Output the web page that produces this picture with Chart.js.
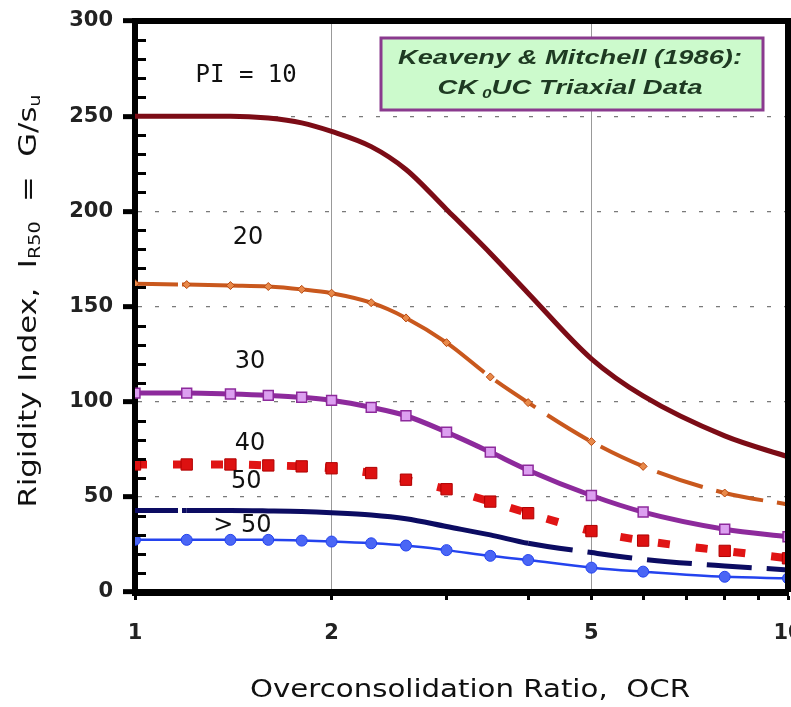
<!DOCTYPE html>
<html>
<head>
<meta charset="utf-8">
<script src="https://cdn.jsdelivr.net/npm/chart.js@4.4.1/dist/chart.umd.min.js"></script>
<style>
  html, body { margin: 0; padding: 0; background: #fff; }
  #c { display: block; }
</style>
</head>
<body>
<canvas id="c" width="791" height="707"></canvas>
<script>
// OCR values where every curve was read
const ocr = [1, 1.2, 1.4, 1.6, 1.8, 2, 2.3, 2.6, 3, 3.5, 4, 5, 6, 8, 10];

// Rigidity index G/su for each plasticity index curve
const pi10 = [250, 250, 250, 249, 246.5, 242, 234, 222, 201, 178, 157, 122.5, 103, 82, 71];
const pi20 = [162, 161.5, 161, 160.5, 159, 157, 152, 144, 131, 113, 99.5, 79, 66, 52, 46];
const pi30 = [104.5, 104.5, 104, 103.3, 102.3, 100.7, 97, 92.6, 84, 73.5, 64, 50.7, 42, 33, 29];
const pi40 = [67, 67, 67, 66.5, 66, 65, 62.5, 59, 54, 47.5, 41.4, 32, 27, 21.6, 17.7];
const pi50 = [42.8, 42.8, 42.8, 42.6, 42.3, 41.7, 40.5, 38.5, 34.4, 30, 25.6, 20.7, 17.2, 13.7, 11.6];
const piOver50 = [27.4, 27.4, 27.4, 27.4, 27, 26.5, 25.6, 24.4, 22, 19, 16.8, 12.8, 10.7, 8, 7.2];

// Axis ticks
const xTicks = [1, 2, 3, 4, 5, 6, 7, 8, 9, 10];
const xLabels = [1, 2, 5, 10];
const xGridAt = [2, 5];

// Curve labels: text and where it sits (OCR, G/su)
const curveLabelText = ['PI = 10', '20', '30', '40', '50', '> 50'];
const curveLabelOcr = [1.48, 1.49, 1.5, 1.5, 1.48, 1.46];
const curveLabelVal = [271, 186, 121, 78, 58, 35];

const toPts = arr => ocr.map((x, i) => ({ x: x, y: arr[i] }));

// dashes that start part way along a curve (first short break, then dashes from `from` on)
const dashAfter = (from, pattern) => c => {
  if (c.p0.parsed.x === 1) return [43, 4];
  return c.p0.parsed.x >= from ? pattern : undefined;
};

// draw runs of [text, font, dy] centred on (cx, cy), stretched to width w
function drawRuns(ctx, runs, cx, cy, w) {
  let nat = 0;
  runs.forEach(r => { ctx.font = r[1]; nat += ctx.measureText(r[0]).width; });
  ctx.save();
  ctx.translate(cx, cy);
  ctx.scale(w / nat, 1);
  ctx.textAlign = 'left';
  ctx.textBaseline = 'middle';
  let x = -nat / 2;
  runs.forEach(r => {
    ctx.font = r[1];
    ctx.fillText(r[0], x, r[2]);
    x += ctx.measureText(r[0]).width;
  });
  ctx.restore();
}

// Draws frame, inner minor ticks, titles, labels and the source box
const decorations = {
  id: 'decorations',
  afterDraw(chart) {
    const ctx = chart.ctx;
    const a = chart.chartArea;
    const xs = chart.scales.x, ys = chart.scales.y;
    ctx.save();

    // top + right frame
    ctx.strokeStyle = '#000';
    ctx.lineWidth = 6;
    ctx.beginPath();
    ctx.moveTo(a.left, a.top);
    ctx.lineTo(a.right, a.top);
    ctx.lineTo(a.right, a.bottom);
    ctx.stroke();

    // minor ticks on the inside of the y axis
    ctx.lineWidth = 3;
    for (let v = 10; v < 300; v += 10) {
      if (v % 50 === 0) continue;
      const py = Math.round(ys.getPixelForValue(v)) + 0.5;
      ctx.beginPath();
      ctx.moveTo(a.left, py);
      ctx.lineTo(a.left + 11, py);
      ctx.stroke();
    }

    // curve labels
    ctx.fillStyle = '#111';
    ctx.textAlign = 'center';
    ctx.textBaseline = 'middle';
    curveLabelText.forEach((t, i) => {
      ctx.font = i === 0 ? '24px "DejaVu Sans Mono"' : '500 24px "DejaVu Sans", sans-serif';
      ctx.fillText(t, xs.getPixelForValue(curveLabelOcr[i]), ys.getPixelForValue(curveLabelVal[i]));
    });

    // source box
    const bx = 381, by = 38, bw = 382, bh = 72;
    ctx.fillStyle = '#ccfacc';
    ctx.fillRect(bx, by, bw, bh);
    ctx.strokeStyle = '#8a3a8e';
    ctx.lineWidth = 3;
    ctx.strokeRect(bx, by, bw, bh);
    ctx.fillStyle = '#1e3a22';
    const big = 'italic bold 21px "Liberation Sans", Arial';
    const small = 'italic bold 13px "Liberation Sans", Arial';
    drawRuns(ctx, [['Keaveny & Mitchell (1986):', big, 0]], 570, 58, 344);
    drawRuns(ctx, [['CK', big, 0], [' 0', small, 6], ['UC Triaxial Data', big, 0]], 570, 88, 265);

    // axis titles
    ctx.fillStyle = '#111';
    drawRuns(ctx, [['Overconsolidation Ratio,  OCR', '25px "DejaVu Sans", sans-serif', 0]], 470, 690, 440);

    ctx.translate(30, 301);
    ctx.rotate(-Math.PI / 2);
    const tf = '24px "DejaVu Sans", sans-serif', sf = '15px "DejaVu Sans", sans-serif';
    drawRuns(ctx, [
      ['Rigidity Index,  I', tf, 0], ['R50', sf, 6], ['  =  G/s', tf, 0], ['u', sf, 6]
    ], 0, 0, 413);

    ctx.restore();
  }
};

const chart = new Chart(document.getElementById('c'), {
  type: 'line',
  data: {
    datasets: [
      {
        label: 'PI = 10', data: toPts(pi10),
        borderColor: '#7c0c16', borderWidth: 5, pointRadius: 0
      },
      {
        label: 'PI = 20', data: toPts(pi20),
        borderColor: '#c9581d', borderWidth: 4,
        segment: { borderDash: dashAfter(3, [48, 14]) },
        pointStyle: 'rectRot', pointRadius: 4,
        pointBackgroundColor: '#e8894a', pointBorderColor: '#b8480f', pointBorderWidth: 1
      },
      {
        label: 'PI = 30', data: toPts(pi30),
        borderColor: '#8d2a9c', borderWidth: 5,
        pointStyle: 'rect', pointRadius: 7,
        pointBackgroundColor: '#dc9ff0', pointBorderColor: '#8d2a9c', pointBorderWidth: 1.5
      },
      {
        label: 'PI = 40', data: toPts(pi40),
        borderColor: '#e01414', borderWidth: 8, borderDash: [12, 26],
        pointStyle: 'rect', pointRadius: 8,
        pointBackgroundColor: '#dd1111', pointBorderColor: '#b00000', pointBorderWidth: 1
      },
      {
        label: 'PI = 50', data: toPts(pi50),
        borderColor: '#0c0c62', borderWidth: 5, pointRadius: 0,
        segment: { borderDash: dashAfter(4, [45, 15]) }
      },
      {
        label: 'PI > 50', data: toPts(piOver50),
        borderColor: '#2443ee', borderWidth: 2.5,
        pointStyle: 'circle', pointRadius: 5.5,
        pointBackgroundColor: '#4a66f5', pointBorderColor: '#2443ee', pointBorderWidth: 1
      }
    ]
  },
  options: {
    responsive: false,
    devicePixelRatio: 1,
    animation: false,
    layout: { autoPadding: false, padding: { left: 0, right: 3, top: 21, bottom: 0 } },
    elements: { line: { cubicInterpolationMode: 'monotone', fill: false } },
    plugins: { legend: { display: false }, tooltip: { enabled: false } },
    scales: {
      x: {
        type: 'logarithmic', min: 1, max: 10,
        afterBuildTicks: scale => { scale.ticks = xTicks.map(v => ({ value: v })); },
        afterFit: scale => {
          scale.height = 115;
          scale.paddingLeft = 0; scale.paddingRight = 0;
        },
        border: { color: '#000', width: 7 },
        grid: {
          color: c => (c.tick && xGridAt.includes(c.tick.value)) ? '#999' : 'rgba(0,0,0,0)',
          lineWidth: 1,
          tickColor: '#000', tickLength: 8, tickWidth: 3
        },
        ticks: {
          autoSkip: false, maxRotation: 0, padding: 21,
          color: '#222', font: { family: '"DejaVu Sans", sans-serif', size: 21, weight: 'bold' },
          callback: v => xLabels.includes(v) ? String(v) : ''
        }
      },
      y: {
        min: 0, max: 300,
        afterFit: scale => {
          scale.width = 135;
          scale.paddingTop = 0; scale.paddingBottom = 0;
        },
        // in v4 border.dash styles the grid lines
        border: { color: '#000', width: 6, dash: [4, 13] },
        grid: {
          color: c => (c.tick && c.tick.value % 50 === 0 && c.tick.value > 0 && c.tick.value < 300) ? '#7a7a7a' : 'rgba(0,0,0,0)',
          lineWidth: 1.3,
          tickColor: c => (c.tick && c.tick.value % 50 === 0) ? '#000' : 'rgba(0,0,0,0)',
          tickLength: 12, tickWidth: 5
        },
        ticks: {
          stepSize: 10, autoSkip: false, padding: 10,
          color: '#222', font: { family: '"DejaVu Sans", sans-serif', size: 21, weight: 'bold' },
          callback: v => v % 50 === 0 ? String(v) : ''
        }
      }
    }
  },
  plugins: [decorations]
});
</script>
</body>
</html>
